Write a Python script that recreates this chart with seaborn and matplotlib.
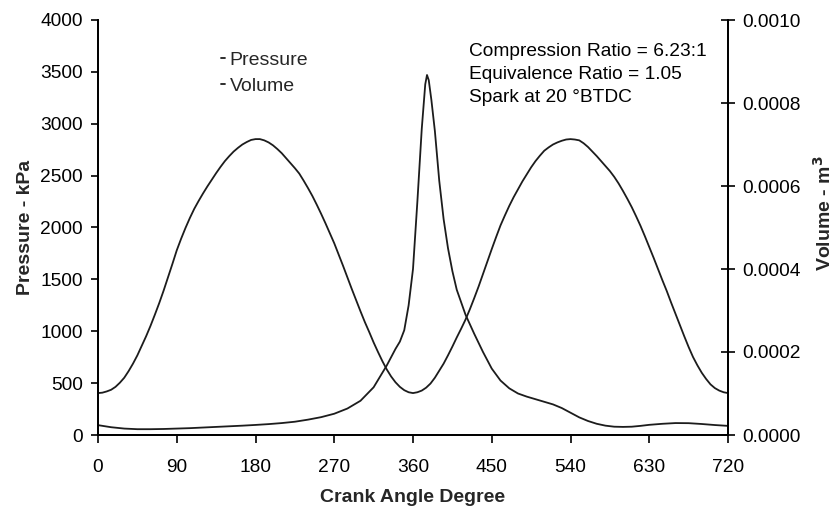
import matplotlib
matplotlib.use("Agg")
import matplotlib.pyplot as plt
from matplotlib.ticker import FuncFormatter
import seaborn as sns

# Cylinder pressure (kPa) against crank angle (deg)
angles_p = [0, 15, 30, 45, 60, 75, 90, 105, 120, 135, 150, 165, 180, 195, 210,
            225, 240, 255, 270, 285, 300, 315, 330, 340, 345, 350, 355, 360,
            365, 370, 374, 376, 378, 381, 385, 390, 395, 400, 405, 410, 420,
            430, 440, 450, 460, 470, 480, 490, 500, 510, 520, 530, 540, 550,
            560, 570, 580, 590, 600, 610, 620, 630, 645, 660, 675, 690, 705, 720]
pressure_kpa = [95, 75, 62, 56, 56, 58, 62, 66, 72, 78, 84, 90, 97, 105, 115,
                128, 148, 172, 205, 255, 330, 460, 670, 830, 900, 1010, 1250, 1600,
                2250, 2950, 3380, 3470, 3420, 3230, 2930, 2450, 2080, 1800, 1580, 1400, 1160,
                975, 800, 640, 525, 450, 400, 370, 345, 320, 295, 260, 215, 170,
                135, 108, 90, 80, 78, 80, 88, 98, 108, 115, 114, 106, 96, 88]

# Cylinder volume (units of 1e-4 m^3) every 5 deg of crank angle
angles_v = list(range(0, 721, 5))
volume_e4 = [
    # 0 - 360 deg
    1.01, 1.02, 1.05, 1.09, 1.16, 1.26, 1.38, 1.54, 1.72, 1.92, 2.15, 2.38, 2.63,
    2.90, 3.18, 3.48, 3.80, 4.12, 4.45, 4.73, 4.99, 5.23, 5.45, 5.64, 5.82, 5.99,
    6.15, 6.31, 6.46, 6.60, 6.72, 6.83, 6.92, 7.00, 7.06, 7.11, 7.13, 7.13, 7.10,
    7.05, 6.98, 6.89, 6.79, 6.67, 6.55, 6.43, 6.30, 6.13, 5.95, 5.76, 5.55, 5.33,
    5.10, 4.86, 4.62, 4.35, 4.08, 3.80, 3.52, 3.25, 2.98, 2.72, 2.48, 2.23, 2.00,
    1.78, 1.58, 1.41, 1.27, 1.16, 1.08, 1.03, 1.01,
    # 365 - 720 deg
    1.03, 1.07, 1.14, 1.24, 1.38, 1.55, 1.72, 1.92, 2.13, 2.35, 2.56, 2.78, 3.03,
    3.30, 3.58, 3.88, 4.18, 4.48, 4.77, 5.05, 5.29, 5.52, 5.73, 5.92, 6.11, 6.28,
    6.45, 6.60, 6.73, 6.85, 6.93, 7.00, 7.05, 7.09, 7.12, 7.13, 7.12, 7.10, 7.03,
    6.94, 6.83, 6.72, 6.60, 6.48, 6.36, 6.22, 6.06, 5.88, 5.69, 5.49, 5.27, 5.04,
    4.79, 4.53, 4.27, 4.00, 3.73, 3.47, 3.19, 2.92, 2.65, 2.38, 2.12, 1.88, 1.68,
    1.50, 1.35, 1.22, 1.13, 1.07, 1.03, 1.01,
]
volume_m3 = [v * 1e-4 for v in volume_e4]

x_ticks = [0, 90, 180, 270, 360, 450, 540, 630, 720]
p_ticks = [0, 500, 1000, 1500, 2000, 2500, 3000, 3500, 4000]
v_ticks = [0.0, 0.0002, 0.0004, 0.0006, 0.0008, 0.0010]

run_notes = ["Compression Ratio = 6.23:1",
             "Equivalence Ratio = 1.05",
             "Spark at 20 \u00b0BTDC"]

sns.set_style("white")
plt.rcParams["font.family"] = ["Liberation Sans", "DejaVu Sans"]

line_color = "#1c1c1c"
tick_size = 13.8

fig = plt.figure(figsize=(8.36, 5.09), dpi=100)
ax = fig.add_axes([98 / 836, 1 - 435 / 509, 630 / 836, 415 / 509])

sns.lineplot(x=angles_p, y=pressure_kpa, ax=ax, color=line_color, lw=1.3,
             label="Pressure")
ax2 = ax.twinx()
sns.lineplot(x=angles_v, y=volume_m3, ax=ax2, color=line_color, lw=1.3,
             label="Volume", legend=False)

ax.set_xlim(0, 720)
ax.set_ylim(0, 4000)
ax2.set_ylim(0, 0.001)
ax.set_xticks(x_ticks)
ax.set_yticks(p_ticks)
ax2.set_yticks(v_ticks)
ax2.yaxis.set_major_formatter(FuncFormatter(lambda v, _: f"{v:.4f}"))

for a in (ax, ax2):
    a.spines["top"].set_visible(False)
    for s in ("left", "right", "bottom"):
        a.spines[s].set_color("black")
        a.spines[s].set_linewidth(1.3)

ax.tick_params(axis="x", bottom=True, direction="out", length=6, width=1.2,
               labelsize=tick_size, colors="black", pad=11)
ax.tick_params(axis="y", left=True, direction="out", length=5, width=1.2,
               labelsize=tick_size, colors="black", pad=6)
ax2.tick_params(axis="y", right=True, direction="inout", length=10, width=1.2,
                labelsize=tick_size, colors="black", pad=5)

ax.set_xlabel("Crank Angle Degree", fontsize=14, fontweight="bold", labelpad=10)
ax.set_ylabel("Pressure - kPa", fontsize=14, fontweight="bold")
ax.yaxis.set_label_coords(-0.102, 0.5)
ax2.set_ylabel("Volume - m$^\\mathbf{3}$", fontsize=14, fontweight="bold")
ax2.yaxis.set_label_coords(1.135, 0.535)

h1, l1 = ax.get_legend_handles_labels()
h2, l2 = ax2.get_legend_handles_labels()
ax.legend(h1 + h2, l1 + l2, loc="upper left", bbox_to_anchor=(0.195, 0.925),
          frameon=False, fontsize=14, handlelength=0.2, handletextpad=0.25,
          borderpad=0, borderaxespad=0, labelspacing=0.42)

ax.text(0.589, 0.945, "\n".join(run_notes), transform=ax.transAxes,
        ha="left", va="top", fontsize=13.8, linespacing=1.45, color="black")

fig.savefig("out.png", dpi=100)
